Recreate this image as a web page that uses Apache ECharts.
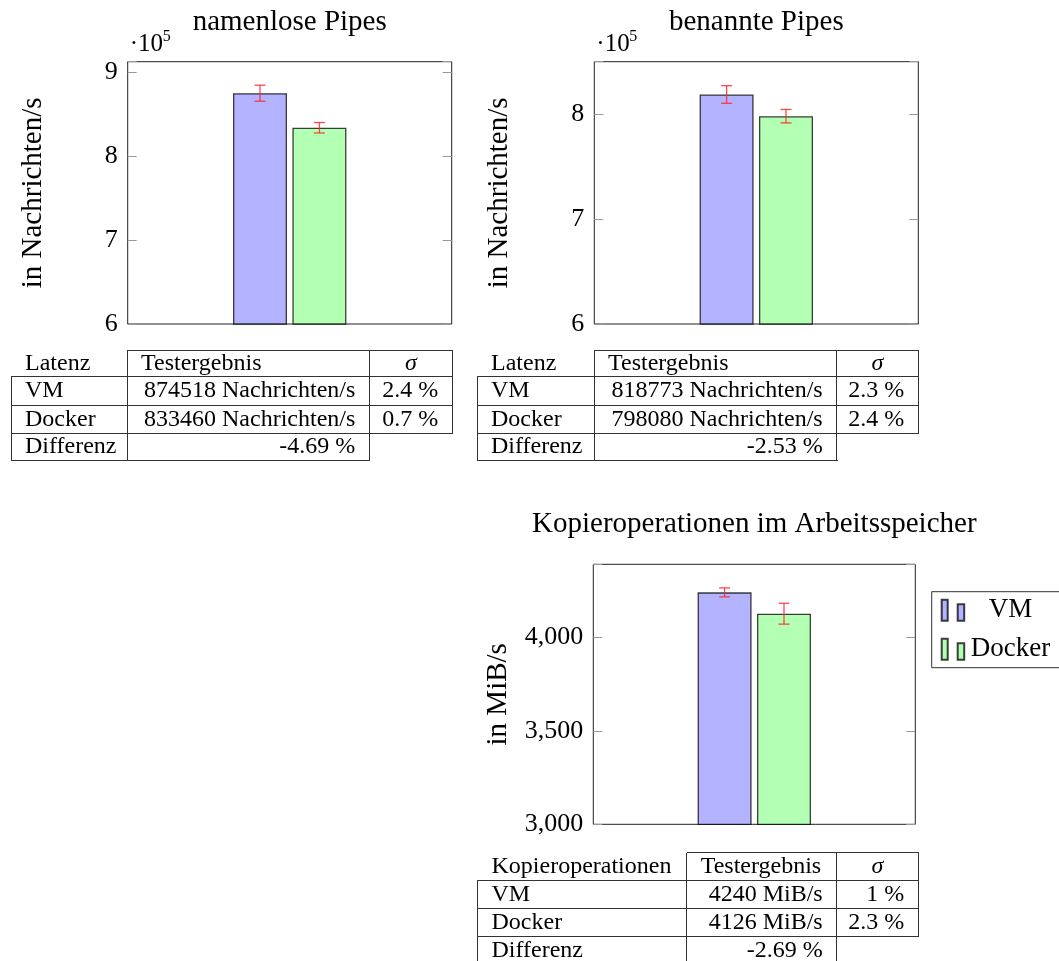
<!DOCTYPE html>
<html>
<head>
<meta charset="utf-8">
<script src="https://cdn.jsdelivr.net/npm/echarts@6.0.0/dist/echarts.min.js"></script>
<style>
  html, body { margin: 0; padding: 0; background: #ffffff; }
  #chart { position: absolute; left: 0; top: 0; width: 1059px; height: 961px; }
  .cell { position: absolute; box-sizing: border-box; display: flex; align-items: center;
          font-family: "Liberation Serif", serif; font-size: 24px; color: #000; white-space: nowrap;
          padding: 0 14px; }
  .cell span { position: relative; top: -1px; }
  .hl { position: absolute; height: 1px; background: #333; }
  .vl { position: absolute; width: 1px; background: #333; }
</style>
</head>
<body>
<div id="chart"></div>
<script>
// ---------------- data ----------------
const chartTitles = ['namenlose Pipes', 'benannte Pipes', 'Kopieroperationen im Arbeitsspeicher'];
const seriesNames = ['VM', 'Docker'];
const categories = ['Messung'];
const vmValues = [874518, 818773, 4240];
const dockerValues = [833460, 798080, 4126];
const vmErrors = [9500, 8400, 24];
const dockerErrors = [6200, 6400, 56];
const yAxisNames = ['in Nachrichten/s', 'in Nachrichten/s', 'in MiB/s'];
const yMins = [600000, 600000, 3000];
const yMaxs = [912000, 850000, 4390];
const yIntervals = [100000, 100000, 500];
const tickLabels0 = ['6', '7', '8', '9'];
const tickLabels1 = ['6', '7', '8'];
const tickLabels2 = ['3,000', '3,500', '4,000'];
const scaleBase = '·10';
const scaleExp = '5';
const tableFirstHeaders = ['Latenz', 'Latenz', 'Kopieroperationen'];
const tableResultHeader = 'Testergebnis';
const tableSigmaHeader = 'σ';
const rowLabels = ['VM', 'Docker', 'Differenz'];
const units = ['Nachrichten/s', 'Nachrichten/s', 'MiB/s'];
const vmSigma = ['2.4 %', '2.3 %', '1 %'];
const dockerSigma = ['0.7 %', '2.4 %', '2.3 %'];
const differences = ['-4.69 %', '-2.53 %', '-2.69 %'];

// ---------------- layout ----------------
const FONT = 'Liberation Serif';
const grids = [
  { left: 127.7, top: 61.7, width: 324, height: 262.3 },
  { left: 594.3, top: 61.7, width: 324, height: 262.3 },
  { left: 593.3, top: 564.3, width: 322, height: 260 }
];
const tableGeom = [
  { xs: [11, 127, 369.3, 452.3], ys: [350, 376.7, 405, 433.3, 460.7] },
  { xs: [477, 594, 836.7, 918.3], ys: [350, 376.7, 405, 433.3, 460.7] },
  { xs: [477.5, 686.7, 836.7, 918.3], ys: [852.7, 880, 908.3, 936, 964] }
];
const tickLabelSets = [tickLabels0, tickLabels1, tickLabels2];
const BAR_W = 54, BAR_GAP = 5.4;
const OFFSET = (BAR_W + BAR_GAP) / 2;

function labelFormatter(i) {
  return function (v) {
    const k = Math.round((v - yMins[i]) / yIntervals[i]);
    if (Math.abs(yMins[i] + k * yIntervals[i] - v) > 1e-6) return '';
    return tickLabelSets[i][k] !== undefined ? tickLabelSets[i][k] : '';
  };
}

function errorRenderer(offset) {
  return function (params, api) {
    const c = api.value(0), v = api.value(1), e = api.value(2);
    const hi = api.coord([c, v + e]);
    const lo = api.coord([c, v - e]);
    const x = hi[0] + offset;
    const cap = 5.5;
    const style = { stroke: 'rgba(255,40,40,0.85)', lineWidth: 1.3 };
    return {
      type: 'group',
      children: [
        { type: 'line', shape: { x1: x, y1: hi[1], x2: x, y2: lo[1] }, style: style },
        { type: 'line', shape: { x1: x - cap, y1: hi[1], x2: x + cap, y2: hi[1] }, style: style },
        { type: 'line', shape: { x1: x - cap, y1: lo[1], x2: x + cap, y2: lo[1] }, style: style }
      ]
    };
  };
}

const gridOpts = [], xAxes = [], yAxes = [], series = [], graphics = [];
grids.forEach(function (g, i) {
  gridOpts.push({ left: g.left, top: g.top, width: g.width, height: g.height, show: true,
    borderColor: '#222', borderWidth: 1, backgroundColor: 'transparent', outerBoundsMode: 'none', containLabel: false });
  xAxes.push({ type: 'category', gridIndex: i, data: categories, show: false, boundaryGap: true });
  const yBase = {
    type: 'value', gridIndex: i, min: yMins[i], max: yMaxs[i], interval: yIntervals[i],
    splitLine: { show: false }, axisLine: { show: false },
    axisTick: { show: true, inside: true, length: 9, lineStyle: { color: '#999', width: 1 } }
  };
  yAxes.push(Object.assign({}, yBase, {
    position: 'left',
    name: yAxisNames[i], nameLocation: 'middle', nameGap: 80,
    nameTextStyle: { fontFamily: FONT, fontSize: 29, color: '#000' },
    axisLabel: { show: true, margin: 10, fontFamily: FONT, fontSize: 26, color: '#000', formatter: labelFormatter(i) }
  }));
  yAxes.push(Object.assign({}, yBase, { position: 'right', axisLabel: { show: false } }));
  const yIdx = i * 2;
  series.push({
    type: 'bar', name: seriesNames[0], xAxisIndex: i, yAxisIndex: yIdx, data: [vmValues[i]],
    barWidth: BAR_W, barGap: (BAR_GAP / BAR_W * 100) + '%',
    itemStyle: { color: '#b3b3ff', borderColor: 'rgba(0,0,0,0.75)', borderWidth: 1.3 }
  });
  series.push({
    type: 'bar', name: seriesNames[1], xAxisIndex: i, yAxisIndex: yIdx, data: [dockerValues[i]],
    barWidth: BAR_W, barGap: (BAR_GAP / BAR_W * 100) + '%',
    itemStyle: { color: '#b3ffb3', borderColor: 'rgba(0,0,0,0.75)', borderWidth: 1.3 }
  });
  series.push({
    type: 'custom', name: seriesNames[0] + ' σ', xAxisIndex: i, yAxisIndex: yIdx, z: 5,
    data: [[0, vmValues[i], vmErrors[i]]], encode: { x: 0, y: 1 },
    renderItem: errorRenderer(-OFFSET)
  });
  series.push({
    type: 'custom', name: seriesNames[1] + ' σ', xAxisIndex: i, yAxisIndex: yIdx, z: 5,
    data: [[0, dockerValues[i], dockerErrors[i]]], encode: { x: 0, y: 1 },
    renderItem: errorRenderer(OFFSET)
  });
  // title
  graphics.push({
    type: 'text', x: g.left + g.width / 2, y: g.top - 39.5,
    style: { text: chartTitles[i], fontFamily: FONT, fontSize: 29, fill: '#000', align: 'center', verticalAlign: 'middle' }
  });
  // scale factor
  if (i < 2) {
    graphics.push({
      type: 'text', x: g.left + 2, y: g.top - 17.5,
      style: { text: scaleBase, fontFamily: FONT, fontSize: 25, fill: '#000', align: 'left', verticalAlign: 'middle' }
    });
    graphics.push({
      type: 'text', x: g.left + 35, y: g.top - 25,
      style: { text: scaleExp, fontFamily: FONT, fontSize: 16, fill: '#000', align: 'left', verticalAlign: 'middle' }
    });
  }
});

const chart = echarts.init(document.getElementById('chart'), null, { renderer: 'canvas' });
chart.setOption({
  animation: false,
  backgroundColor: '#ffffff',
  grid: gridOpts,
  xAxis: xAxes,
  yAxis: yAxes,
  series: series,
  graphic: graphics,
  legend: {
    data: seriesNames,
    orient: 'vertical',
    left: 931.7, top: 591.7,
    padding: [5, 30, 5, 9],
    itemWidth: 23, itemHeight: 21, itemGap: 12,
    borderColor: '#333', borderWidth: 1, borderRadius: 0,
    icon: 'path://M0,0h6v21h-6z M16,4.5h6.5v16.5h-6.5z',
    textStyle: { fontFamily: FONT, fontSize: 27, color: '#000' },
    formatter: function (name) { return '{c|' + name + '}'; },
    selectedMode: false
  }
});
// rich style for centered legend text
chart.setOption({ legend: { textStyle: { rich: { c: { width: 82, align: 'center', fontFamily: FONT, fontSize: 27, color: '#000' } } } } });

// ---------------- tables ----------------
function addTable(i) {
  const geo = tableGeom[i];
  const xs = geo.xs, ys = geo.ys;
  const body = document.body;
  function cell(col, row, text, align, italic) {
    const d = document.createElement('div');
    d.className = 'cell';
    d.style.left = xs[col] + 'px';
    d.style.top = ys[row] + 'px';
    d.style.width = (xs[col + 1] - xs[col]) + 'px';
    d.style.height = (ys[row + 1] - ys[row]) + 'px';
    d.style.justifyContent = align === 'left' ? 'flex-start' : (align === 'right' ? 'flex-end' : 'center');
    const s = document.createElement('span');
    s.textContent = text;
    if (italic) s.style.fontStyle = 'italic';
    d.appendChild(s);
    body.appendChild(d);
  }
  function hl(y, x0, x1) {
    const d = document.createElement('div'); d.className = 'hl';
    d.style.left = x0 + 'px'; d.style.top = (y - 0.5) + 'px'; d.style.width = (x1 - x0 + 1) + 'px';
    body.appendChild(d);
  }
  function vl(x, y0, y1) {
    const d = document.createElement('div'); d.className = 'vl';
    d.style.left = (x - 0.5) + 'px'; d.style.top = y0 + 'px'; d.style.height = (y1 - y0) + 'px';
    body.appendChild(d);
  }
  cell(0, 0, tableFirstHeaders[i], 'left');
  cell(1, 0, tableResultHeader, 'left');
  cell(2, 0, tableSigmaHeader, 'center', true);
  cell(0, 1, rowLabels[0], 'left');
  cell(1, 1, vmValues[i] + ' ' + units[i], 'right');
  cell(2, 1, vmSigma[i], 'right');
  cell(0, 2, rowLabels[1], 'left');
  cell(1, 2, dockerValues[i] + ' ' + units[i], 'right');
  cell(2, 2, dockerSigma[i], 'right');
  cell(0, 3, rowLabels[2], 'left');
  cell(1, 3, differences[i], 'right');
  hl(ys[0], xs[1], xs[3]);
  hl(ys[1], xs[0], xs[3]);
  hl(ys[2], xs[0], xs[3]);
  hl(ys[3], xs[0], xs[3]);
  hl(ys[4], xs[0], xs[2]);
  vl(xs[0], ys[1], ys[4]);
  vl(xs[1], ys[0], ys[4]);
  vl(xs[2], ys[0], ys[4]);
  vl(xs[3], ys[0], ys[3]);
}
[0, 1, 2].forEach(addTable);
</script>
</body>
</html>
